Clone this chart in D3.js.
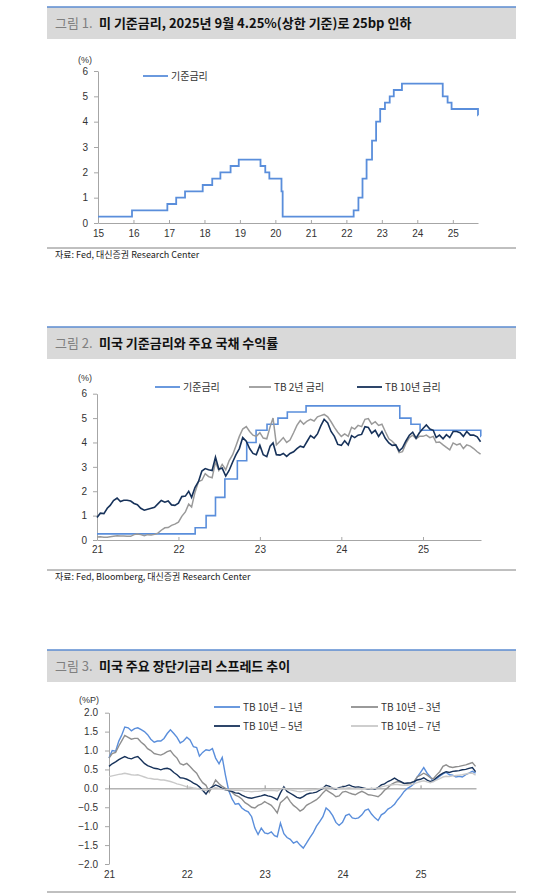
<!DOCTYPE html>
<meta charset="utf-8" />
<html>
<head>
<style>
    body { margin: 0; background: #fff; }
    svg text { font-family: "Liberation Sans", Arial, "Noto Sans CJK KR", sans-serif; }
    svg text.kr { font-family: "Noto Sans CJK KR", sans-serif; }
</style>
</head>
<body>
<div id="chart"></div>
<script src="https://d3js.org/d3.v7.min.js"></script>
<script>

// 미 기준금리 (상한) 변경일, 수준
const fedDates = ["2015-01-01", "2015-12-17", "2016-12-15", "2017-03-16", "2017-06-15", "2017-12-14",
    "2018-03-22", "2018-06-14", "2018-09-27", "2018-12-20", "2019-08-01", "2019-09-19", "2019-10-31",
    "2020-03-04", "2020-03-16", "2022-03-17", "2022-05-05", "2022-06-16", "2022-07-28", "2022-09-22",
    "2022-11-03", "2022-12-15", "2023-02-02", "2023-03-23", "2023-05-04", "2023-07-27", "2024-09-19",
    "2024-11-08", "2024-12-19", "2025-09-17", "2025-09-18"];
const fedRates = [0.25, 0.50, 0.75, 1.00, 1.25, 1.50,
    1.75, 2.00, 2.25, 2.50, 2.25, 2.00, 1.75,
    1.25, 0.25, 0.50, 1.00, 1.75, 2.50, 3.25,
    4.00, 4.50, 4.75, 5.00, 5.25, 5.50, 5.00,
    4.75, 4.50, 4.25, 4.25];

// 2021.01 ~ 2025.09, 매월 1일 / 16일
const tb10 = [
    0.92, 1.10, 1.08, 1.30, 1.42, 1.62, 1.72, 1.58, 1.63, 1.63, 1.60, 1.50, 1.45, 1.30, 1.22, 1.26, 1.30, 1.34, 1.48, 1.62, 1.55, 1.60, 1.44, 1.42,
    1.51, 1.78, 1.80, 2.00, 1.75, 2.15, 2.40, 2.83, 2.93, 2.88, 2.85, 3.40, 2.90, 2.95, 2.62, 2.85, 3.20, 3.50, 3.75, 4.20, 4.05, 3.75, 3.55, 3.50,
    3.88, 3.50, 3.42, 3.85, 3.98, 3.50, 3.48, 3.55, 3.43, 3.55, 3.62, 3.75, 3.85, 3.80, 4.05, 4.28, 4.18, 4.35, 4.68, 4.95, 4.80, 4.45, 4.25, 3.92,
    3.88, 4.07, 3.90, 4.28, 4.20, 4.30, 4.33, 4.65, 4.62, 4.38, 4.50, 4.25, 4.45, 4.17, 3.98, 3.88, 3.90, 3.65, 3.78, 4.05, 4.30, 4.42, 4.18, 4.40,
    4.57, 4.72, 4.55, 4.50, 4.20, 4.30, 4.15, 4.32, 4.20, 4.45, 4.45, 4.40, 4.25, 4.45, 4.30, 4.30, 4.23, 4.03];
const tb2 = [
    0.12, 0.13, 0.11, 0.11, 0.13, 0.15, 0.17, 0.16, 0.16, 0.15, 0.15, 0.22, 0.25, 0.22, 0.18, 0.22, 0.21, 0.23, 0.28, 0.40, 0.50, 0.51, 0.60, 0.65,
    0.73, 0.97, 1.15, 1.47, 1.35, 1.95, 2.40, 2.45, 2.72, 2.60, 2.55, 3.20, 2.85, 3.10, 2.88, 3.25, 3.50, 3.87, 4.25, 4.55, 4.65, 4.45, 4.30, 4.25,
    4.40, 4.18, 4.15, 4.65, 5.00, 3.90, 4.05, 4.20, 4.00, 4.10, 4.40, 4.70, 4.90, 4.75, 4.88, 4.95, 4.88, 5.05, 5.10, 5.15, 5.05, 4.85, 4.62, 4.42,
    4.25, 4.35, 4.25, 4.62, 4.55, 4.70, 4.65, 4.95, 4.98, 4.75, 4.85, 4.70, 4.75, 4.45, 4.15, 4.05, 3.90, 3.58, 3.62, 3.95, 4.20, 4.30, 4.15, 4.25,
    4.25, 4.30, 4.20, 4.25, 4.00, 4.02, 3.90, 3.80, 3.70, 3.98, 3.90, 3.95, 3.75, 3.90, 3.85, 3.75, 3.62, 3.52];

// 장단기 스프레드 (%P)
const sp1 = [
    0.80, 1.00, 0.98, 1.25, 1.40, 1.62, 1.60, 1.52, 1.58, 1.60, 1.55, 1.50, 1.42, 1.30, 1.22, 1.25, 1.25, 1.32, 1.45, 1.55, 1.45, 1.35, 1.20, 1.25,
    1.35, 1.28, 1.10, 1.08, 0.85, 0.95, 1.02, 1.00, 1.05, 0.80, 0.65, 0.82, 0.35, -0.05, -0.28, -0.42, -0.40, -0.52, -0.58, -0.62, -0.75, -1.05, -1.22, -1.05,
    -1.18, -1.20, -1.15, -1.25, -1.28, -0.92, -1.20, -1.30, -1.35, -1.45, -1.40, -1.50, -1.58, -1.45, -1.30, -1.18, -1.00, -0.88, -0.75, -0.52, -0.60, -0.72, -0.90, -0.98,
    -0.90, -0.72, -0.68, -0.78, -0.80, -0.78, -0.70, -0.58, -0.55, -0.68, -0.78, -0.85, -0.70, -0.65, -0.55, -0.50, -0.42, -0.30, -0.20, -0.08, 0.00, 0.05, 0.12, 0.30,
    0.42, 0.55, 0.40, 0.30, 0.18, 0.25, 0.32, 0.38, 0.42, 0.36, 0.35, 0.30, 0.32, 0.30, 0.36, 0.40, 0.45, 0.40];
const sp3 = [
    0.80, 0.92, 0.95, 1.12, 1.25, 1.40, 1.35, 1.30, 1.32, 1.32, 1.22, 1.15, 1.05, 1.00, 0.92, 0.90, 0.88, 0.92, 0.97, 1.00, 0.88, 0.80, 0.65, 0.62,
    0.66, 0.58, 0.48, 0.40, 0.27, 0.15, 0.08, -0.10, 0.05, 0.22, 0.12, 0.05, 0.00, -0.05, -0.10, -0.18, -0.22, -0.28, -0.38, -0.43, -0.50, -0.52, -0.45, -0.42,
    -0.35, -0.40, -0.45, -0.55, -0.65, -0.38, -0.30, -0.22, -0.35, -0.45, -0.52, -0.60, -0.55, -0.45, -0.40, -0.35, -0.30, -0.22, -0.12, -0.04, -0.10, -0.15, -0.22, -0.20,
    -0.10, -0.08, -0.12, -0.15, -0.17, -0.12, -0.08, -0.12, -0.17, -0.18, -0.20, -0.22, -0.15, -0.05, 0.02, 0.10, 0.15, 0.18, 0.16, 0.13, 0.12, 0.13, 0.18, 0.30,
    0.35, 0.40, 0.35, 0.28, 0.25, 0.35, 0.44, 0.58, 0.62, 0.57, 0.55, 0.57, 0.58, 0.60, 0.62, 0.65, 0.68, 0.58];
const sp5 = [
    0.58, 0.65, 0.70, 0.76, 0.80, 0.84, 0.80, 0.78, 0.82, 0.84, 0.75, 0.66, 0.60, 0.57, 0.53, 0.52, 0.49, 0.52, 0.53, 0.50, 0.42, 0.36, 0.28, 0.27,
    0.24, 0.20, 0.14, 0.10, 0.04, -0.05, -0.15, -0.02, 0.04, 0.09, 0.05, 0.00, -0.04, -0.06, -0.08, -0.12, -0.13, -0.18, -0.22, -0.25, -0.26, -0.24, -0.22, -0.20,
    -0.17, -0.20, -0.22, -0.26, -0.30, -0.12, 0.04, -0.08, -0.13, -0.18, -0.24, -0.26, -0.22, -0.16, -0.13, -0.12, -0.10, -0.05, 0.00, 0.08, 0.05, 0.00, -0.02, 0.02,
    0.04, 0.06, 0.09, 0.05, 0.03, 0.04, 0.02, 0.00, -0.02, 0.00, -0.02, 0.02, 0.09, 0.12, 0.18, 0.22, 0.27, 0.22, 0.18, 0.13, 0.14, 0.15, 0.18, 0.22,
    0.24, 0.28, 0.22, 0.18, 0.20, 0.28, 0.35, 0.40, 0.44, 0.42, 0.45, 0.46, 0.47, 0.49, 0.50, 0.53, 0.55, 0.44];
const sp7 = [
    0.31, 0.33, 0.35, 0.37, 0.38, 0.40, 0.38, 0.36, 0.35, 0.36, 0.33, 0.30, 0.27, 0.26, 0.24, 0.24, 0.22, 0.22, 0.20, 0.18, 0.15, 0.12, 0.10, 0.07,
    0.04, 0.03, 0.01, 0.00, -0.02, -0.04, -0.06, -0.02, 0.00, 0.02, 0.00, -0.02, -0.04, -0.03, -0.04, -0.05, -0.05, -0.06, -0.08, -0.08, -0.09, -0.08, -0.08, -0.07,
    -0.05, -0.06, -0.05, -0.06, -0.07, -0.02, 0.00, -0.03, -0.04, -0.06, -0.08, -0.09, -0.08, -0.06, -0.05, -0.04, -0.03, -0.01, 0.01, 0.03, 0.02, 0.01, 0.00, 0.00,
    0.01, 0.00, 0.02, 0.00, 0.00, 0.00, -0.01, 0.00, -0.01, 0.00, 0.00, 0.01, 0.04, 0.06, 0.08, 0.09, 0.10, 0.10, 0.09, 0.08, 0.08, 0.10, 0.12, 0.15,
    0.18, 0.20, 0.17, 0.15, 0.18, 0.22, 0.26, 0.30, 0.32, 0.31, 0.33, 0.34, 0.35, 0.36, 0.38, 0.40, 0.40, 0.35];

const yearLabels1 = ["15", "16", "17", "18", "19", "20", "21", "22", "23", "24", "25"];
const yearLabels2 = ["21", "22", "23", "24", "25"];
const yTicks12 = [0, 1, 2, 3, 4, 5, 6];
const yTicks3 = [-2, -1.5, -1, -0.5, 0, 0.5, 1, 1.5, 2];

const parse = d3.utcParse("%Y-%m-%d");
const yearDate = s => new Date(Date.UTC(2000 + (+s), 0, 1));

// 반월 날짜 격자
const gridDates = [];
for (let y = 2021; y <= 2025; y++) {
    for (let m = 0; m < 12; m++) {
        if (y === 2025 && m > 8) break;
        gridDates.push(new Date(Date.UTC(y, m, 1)), new Date(Date.UTC(y, m, 16)));
    }
}
const toSeries = vals => vals.map((v, i) => ({ date: gridDates[i], v: v }));

const fed = fedDates.map((d, i) => ({ date: parse(d), v: fedRates[i] }));
const start21 = parse("2021-01-01");
const fed21 = [{ date: start21, v: 0.25 }].concat(fed.filter(d => d.date > start21));

const svg = d3.select("#chart").append("svg")
    .attr("width", 547)
    .attr("height", 894);

const AXIS = "#a6a6a6";
const BLUE = "#5a8edb", GRAY = "#9a9a9a", NAVY = "#17325a", LIGHT = "#c9c9c9";

function titleBar(y0, num, text) {
    svg.append("rect").attr("x", 47).attr("y", y0).attr("width", 469).attr("height", 32).attr("fill", "#d9d9d9");
    svg.append("line").attr("x1", 47).attr("x2", 516).attr("y1", y0).attr("y2", y0)
        .attr("stroke", "#5b8bd0").attr("stroke-width", 1.5);
    const t = svg.append("text").attr("class", "kr").attr("y", y0 + 21).attr("font-size", 13);
    t.append("tspan").attr("x", 55).attr("fill", "#7f7f7f").text("그림 " + num + ".");
    t.append("tspan").attr("x", 99).attr("font-weight", "bold").attr("fill", "#111").text(text);
}

function sourceLine(y, text) {
    svg.append("line").attr("x1", 47).attr("x2", 516).attr("y1", y).attr("y2", y)
        .attr("stroke", "#808080").attr("stroke-width", 1);
    if (text) {
        svg.append("text").attr("class", "kr").attr("x", 55).attr("y", y + 10)
            .attr("font-size", 9).attr("fill", "#222").text(text);
    }
}

function styleAxis(g) {
    g.attr("font-family", null);
    g.selectAll(".domain").attr("stroke", AXIS);
    g.selectAll(".tick line").attr("stroke", AXIS);
    g.selectAll(".tick text").attr("fill", "#333").attr("font-size", 10);
}

function legendItem(x1, x2, y, color, label) {
    svg.append("line").attr("x1", x1).attr("x2", x2).attr("y1", y).attr("y2", y)
        .attr("stroke", color).attr("stroke-width", 1.8);
    svg.append("text").attr("class", "kr").attr("x", x2 + 3).attr("y", y + 3.5)
        .attr("font-size", 10).attr("fill", "#333").text(label);
}

function unitLabel(x, y, text) {
    svg.append("text").attr("x", x).attr("y", y).attr("text-anchor", "middle")
        .attr("font-size", 9).attr("fill", "#333").text(text);
}

// ---------- 그림 1 ----------
titleBar(7, 1, "미 기준금리, 2025년 9월 4.25%(상한 기준)로 25bp 인하");

const x1 = d3.scaleUtc().domain([parse("2015-01-01"), parse("2025-09-17")]).range([98, 478]);
const y1 = d3.scaleLinear().domain([0, 6]).range([223, 71]);

svg.append("g").attr("transform", "translate(0,223)")
    .call(d3.axisBottom(x1).tickValues(yearLabels1.map(yearDate)).tickFormat((d, i) => yearLabels1[i])
        .tickSize(-3).tickSizeOuter(0).tickPadding(7))
    .call(styleAxis);
svg.append("g").attr("transform", "translate(98,0)")
    .call(d3.axisLeft(y1).tickValues(yTicks12).tickFormat(d3.format("d")).tickSize(4).tickSizeOuter(0).tickPadding(6))
    .call(styleAxis);

svg.append("path").datum(fed)
    .attr("fill", "none").attr("stroke", BLUE).attr("stroke-width", 1.8)
    .attr("d", d3.line().x(d => x1(d.date)).y(d => y1(d.v)).curve(d3.curveStepAfter));

unitLabel(85, 63, "(%)");
legendItem(143, 168, 76, BLUE, "기준금리");
sourceLine(248, "자료: Fed, 대신증권 Research Center");

// ---------- 그림 2 ----------
titleBar(327, 2, "미국 기준금리와 주요 국채 수익률");

const x2 = d3.scaleUtc().domain([start21, parse("2025-09-18")]).range([97, 481]);
const y2 = d3.scaleLinear().domain([0, 6]).range([540, 393.7]);

svg.append("g").attr("transform", "translate(0,540)")
    .call(d3.axisBottom(x2).tickValues(yearLabels2.map(yearDate)).tickFormat((d, i) => yearLabels2[i])
        .tickSize(-3).tickSizeOuter(0).tickPadding(6))
    .call(styleAxis);
svg.append("g").attr("transform", "translate(97,0)")
    .call(d3.axisLeft(y2).tickValues(yTicks12).tickFormat(d3.format("d")).tickSize(4).tickSizeOuter(0).tickPadding(6))
    .call(styleAxis);

const line2 = d3.line().x(d => x2(d.date)).y(d => y2(d.v));
svg.append("path").datum(fed21)
    .attr("fill", "none").attr("stroke", BLUE).attr("stroke-width", 1.6)
    .attr("d", line2.curve(d3.curveStepAfter));
svg.append("path").datum(toSeries(tb2))
    .attr("fill", "none").attr("stroke", GRAY).attr("stroke-width", 1.5)
    .attr("d", d3.line().x(d => x2(d.date)).y(d => y2(d.v)));
svg.append("path").datum(toSeries(tb10))
    .attr("fill", "none").attr("stroke", NAVY).attr("stroke-width", 1.6)
    .attr("d", d3.line().x(d => x2(d.date)).y(d => y2(d.v)));

unitLabel(85, 381, "(%)");
legendItem(155, 180, 387, BLUE, "기준금리");
legendItem(249, 271, 387, GRAY, "TB 2년 금리");
legendItem(357, 382, 387, NAVY, "TB 10년 금리");
sourceLine(570, "자료: Fed, Bloomberg, 대신증권 Research Center");

// ---------- 그림 3 ----------
titleBar(650, 3, "미국 주요 장단기금리 스프레드 추이");

const x3 = d3.scaleUtc().domain([start21, parse("2025-09-18")]).range([109, 476]);
const y3 = d3.scaleLinear().domain([-2, 2]).range([864, 712.7]);

svg.append("g").attr("transform", "translate(109,0)")
    .call(d3.axisLeft(y3).tickValues(yTicks3).tickFormat(d3.format(".1f")).tickSize(4).tickSizeOuter(0).tickPadding(7))
    .call(styleAxis);
// 0선 + 눈금
svg.append("g").attr("transform", `translate(0,${y3(0)})`)
    .call(d3.axisBottom(x3).tickValues(yearLabels2.map(yearDate)).tickFormat("").tickSize(-3).tickSizeOuter(0))
    .call(g => g.selectAll(".domain, .tick line").attr("stroke", "#8c8c8c"));
// 하단 연도 라벨
svg.append("g").attr("transform", "translate(0,864)")
    .call(d3.axisBottom(x3).tickValues(yearLabels2.map(yearDate)).tickFormat((d, i) => yearLabels2[i])
        .tickSize(0).tickPadding(7))
    .call(styleAxis)
    .call(g => g.select(".domain").remove());

const line3 = d3.line().x(d => x3(d.date)).y(d => y3(d.v));
[[sp1, BLUE], [sp3, "#8f8f8f"], [sp5, NAVY], [sp7, LIGHT]].forEach(([vals, c]) => {
    svg.append("path").datum(toSeries(vals))
        .attr("fill", "none").attr("stroke", c).attr("stroke-width", 1.4)
        .attr("d", line3);
});

unitLabel(89, 703, "(%P)");
legendItem(214, 240, 707, BLUE, "TB 10년 – 1년");
legendItem(351, 378, 707, "#8f8f8f", "TB 10년 – 3년");
legendItem(214, 240, 726, NAVY, "TB 10년 – 5년");
legendItem(351, 378, 726, LIGHT, "TB 10년 – 7년");
sourceLine(892, null);

</script>
</body>
</html>
